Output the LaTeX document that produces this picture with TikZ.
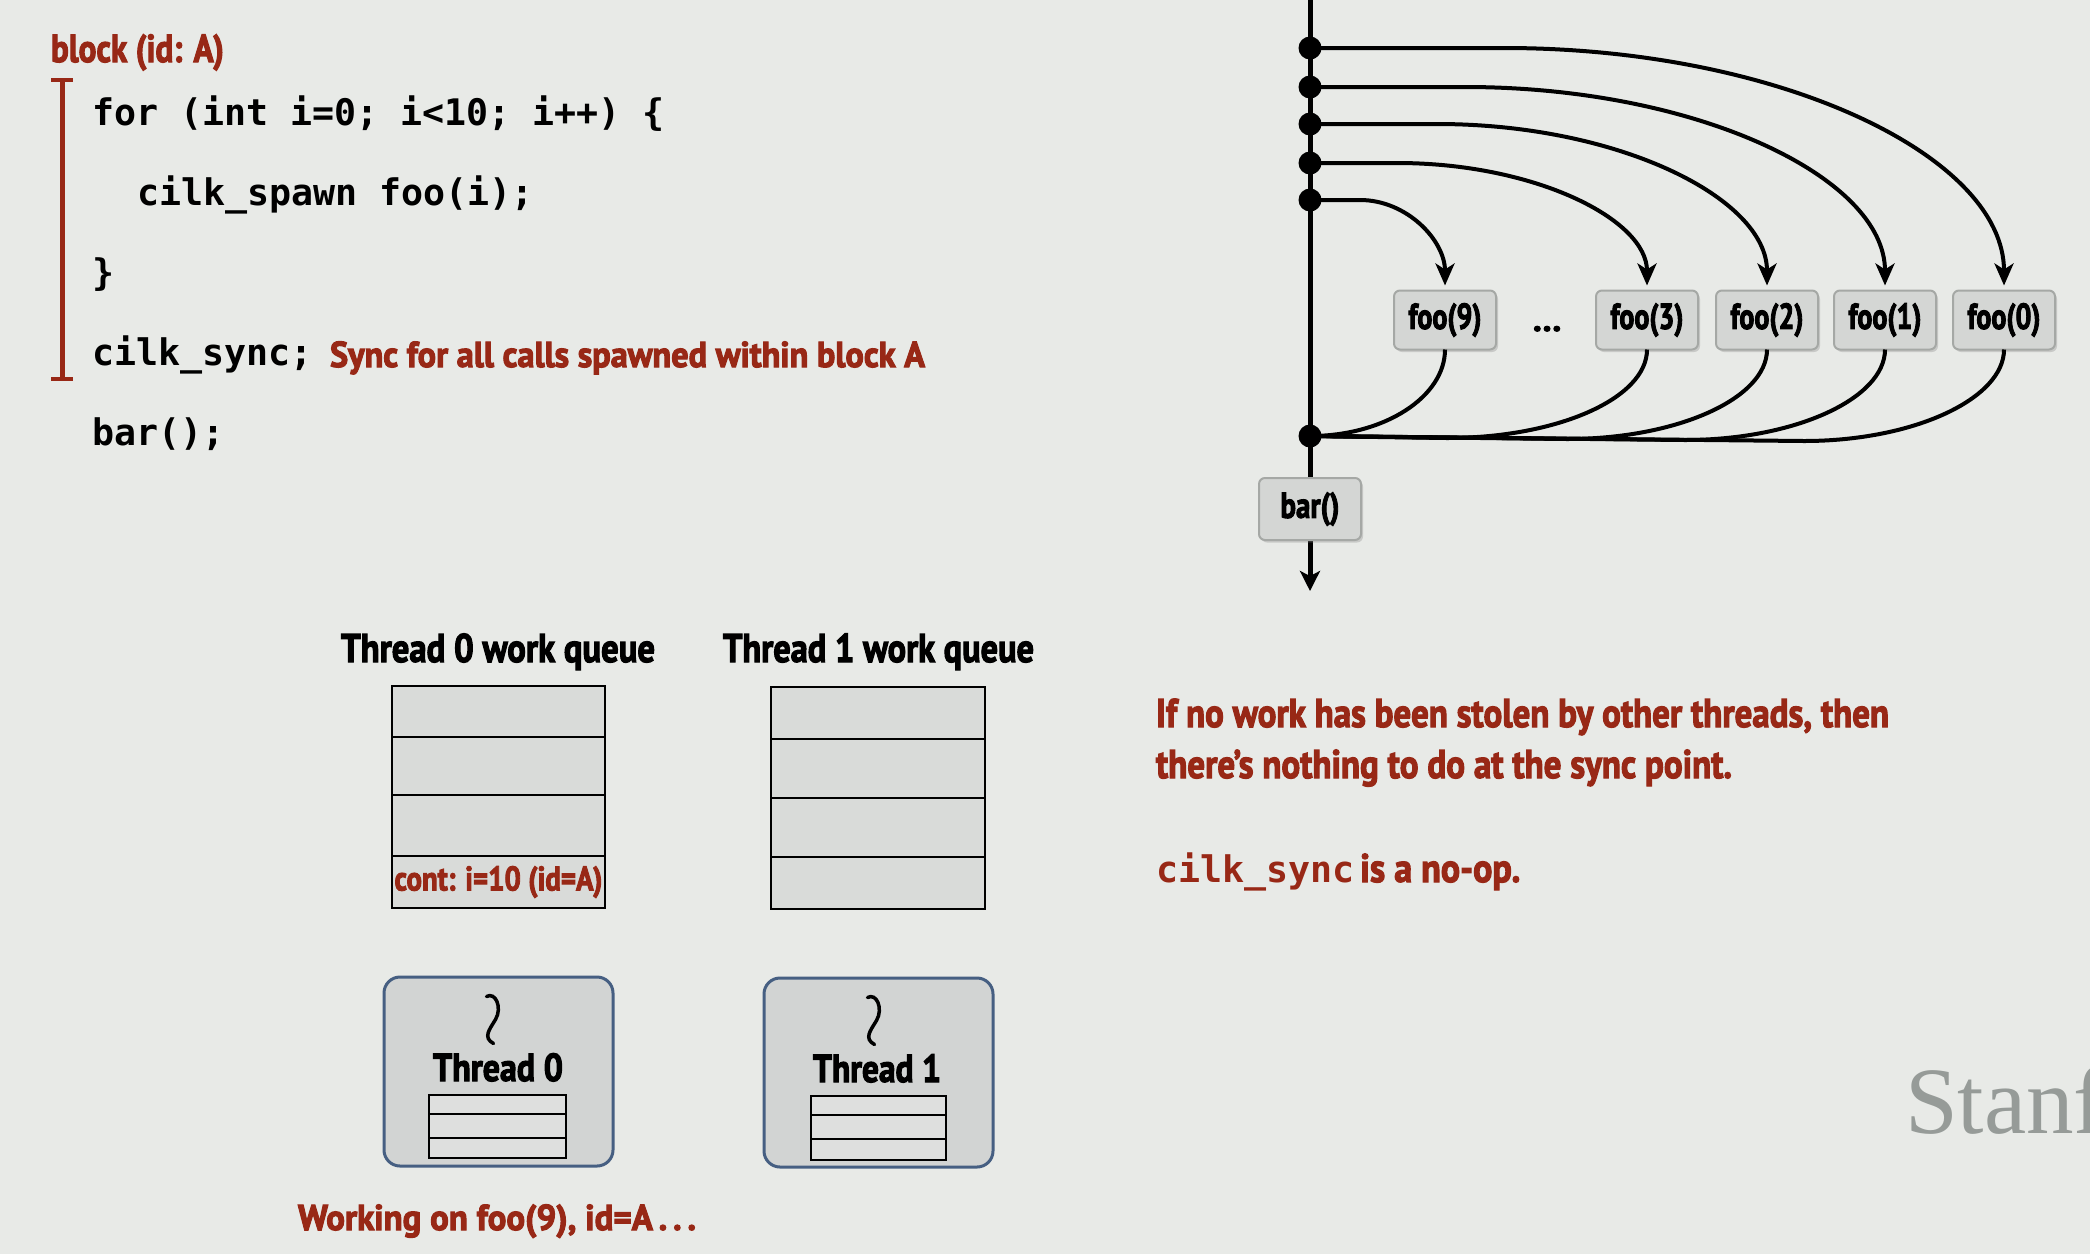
\documentclass[tikz,border=0pt]{standalone}
\usepackage{fontspec}
\usepackage{graphicx}
\setmainfont{PT Sans}[BoldFeatures={FakeBold=3}]
\newfontfamily\codef{DejaVu Sans Mono Bold}
\newfontfamily\stanf{Liberation Serif}
\usetikzlibrary{arrows.meta,shadows}
\definecolor{bgc}{RGB}{232,234,231}
\definecolor{slred}{RGB}{152,40,22}
\definecolor{boxfill}{RGB}{212,214,212}
\definecolor{boxline}{RGB}{165,168,165}
\definecolor{cellfill}{RGB}{217,219,217}
\definecolor{thrline}{RGB}{70,95,130}
\definecolor{thrfill}{RGB}{210,212,211}
\definecolor{stackfill}{RGB}{222,223,222}
\definecolor{stangray}{RGB}{150,155,152}
\newcommand\fitw[2]{\resizebox{#1pt}{\height}{#2}}
\newcommand\fs[1]{\fontsize{#1}{#1}\selectfont}
\pgfdeclarelayer{back}
\pgfdeclarelayer{bg}
\pgfsetlayers{back,bg,main}
\tikzset{
  every node/.style={inner sep=0pt, outer sep=0pt},
  codetxt/.style={anchor=base west, font=\codef\fs{36.6}\frenchspacing, text=black},
  cnd/.style={font=\bfseries\fs{#1}},
  fnbox/.style={draw=boxline, line width=2pt, fill=boxfill, rounded corners=6pt,
    minimum width=102pt, minimum height=59pt,
    drop shadow={shadow xshift=2pt, shadow yshift=-2.5pt, opacity=0.3},
    font=\bfseries\fs{36}},
  spawnln/.style={line width=4pt, -{Stealth[length=22pt, width=19pt, inset=6pt]}, shorten >=5pt},
  joinln/.style={line width=4pt},
  vline/.style={line width=5pt, -{Stealth[length=20pt, width=20pt, inset=5pt]}},
  qcell/.style={draw=black, line width=2.5pt, fill=cellfill, minimum width=213pt},
  thrbox/.style={draw=thrline, line width=3pt, fill=thrfill, rounded corners=16pt,
    minimum width=229pt, minimum height=189pt},
  scell/.style={draw=black, line width=2pt, fill=stackfill, minimum width=137pt},
  pics/squig/.style={code={\draw[line width=3.5pt, line cap=round]
    (-7,-23) .. controls (2,-28) and (9,-12) .. (2,0)
             .. controls (-4,10) and (-11,18) .. (0,24);}},
}
\begin{document}
\begin{tikzpicture}[x=1pt,y=-1pt]
\begin{pgfonlayer}{back}
\fill[bgc] (0,0) rectangle (2090,1254);
\end{pgfonlayer}
\useasboundingbox (0,0) rectangle (2090,1254);
\clip (0,0) rectangle (2090,1254);

% ---------------- code block ----------------
\node[anchor=base west, cnd=39, text=slred] (blk) at (51,62) {\fitw{173}{block (id: A)}};
\coordinate (brt) at (62,80);
\coordinate (brb) at (62,379);
\draw[slred, line width=5pt] (brt) -- (brb);
\draw[slred, line width=3.5pt] ([xshift=-11pt]brt) -- ([xshift=11pt]brt);
\draw[slred, line width=3.5pt] ([xshift=-11pt]brb) -- ([xshift=11pt]brb);
\node[codetxt] (c1) at (92,125) {for (int i=0; i<10; i++) \{};
\node[codetxt] (c2) at (137,205) {cilk\_spawn foo(i);};
\node[codetxt] (c3) at (92,285) {\}};
\node[codetxt] (c4) at (92,365) {cilk\_sync;};
\node[anchor=base west, cnd=36, text=slred] (note) at (330,367) {\fitw{595}{Sync for all calls spawned within block A}};
\node[codetxt] (c5) at (92,445) {bar();};

% ---------------- DAG ----------------
\coordinate (vtop) at (1310,0);
\coordinate (vbot) at (1310,591);
\coordinate (d1) at (1310,48);
\coordinate (d2) at (1310,87);
\coordinate (d3) at (1310,124);
\coordinate (d4) at (1310,163);
\coordinate (d5) at (1310,200);
\coordinate (j) at (1310,436);
\node[fnbox] (f9) at (1445,320) {\fitw{73}{foo(9)}};
\node[fnbox] (f3) at (1647,320) {\fitw{73}{foo(3)}};
\node[fnbox] (f2) at (1767,320) {\fitw{73}{foo(2)}};
\node[fnbox] (f1) at (1885,320) {\fitw{73}{foo(1)}};
\node[fnbox] (f0) at (2004,320) {\fitw{73}{foo(0)}};
\node[anchor=base, cnd=34] (ell) at (1547,331) {\fitw{29}{…}};
\node[fnbox, minimum height=62pt] (bar) at (1310,509) {\fitw{59}{bar()}};
\begin{pgfonlayer}{bg}
\draw[vline] (vtop) -- (vbot);
\end{pgfonlayer}
\draw[spawnln] (d1) -- ++(194,0) .. controls +(276,0) and +(0,-134) .. (f0.north);
\draw[spawnln] (d2) -- ++(155,0) .. controls +(232,0) and +(0,-113) .. (f1.north);
\draw[spawnln] (d3) -- ++(127,0) .. controls +(182,0) and +(0,-92) .. (f2.north);
\draw[spawnln] (d4) -- ++(87,0) .. controls +(138,0) and +(0,-71) .. (f3.north);
\draw[spawnln] (d5) -- ++(50,0) .. controls +(47,0) and +(0,-50) .. (f9.north);
\coordinate (k3) at (1447,438);
\coordinate (k2) at (1567,439);
\coordinate (k1) at (1685,440);
\coordinate (k0) at (1804,441);
\draw[joinln] (f9.south) .. controls +(0,47) and +(75,0) .. (j);
\draw[joinln] (f3.south) .. controls +(0,49) and +(110,0) .. (k3) -- (j);
\draw[joinln] (f2.south) .. controls +(0,49) and +(110,0) .. (k2) -- (j);
\draw[joinln] (f1.south) .. controls +(0,49) and +(110,0) .. (k1) -- (j);
\draw[joinln] (f0.south) .. controls +(0,49) and +(110,0) .. (k0) -- (j);
\foreach \d in {d1,d2,d3,d4,d5,j} \fill (\d) circle[radius=11.5];

% ---------------- work queues ----------------
\node[anchor=base, cnd=40] (q0t) at (498,662) {\fitw{314}{Thread 0 work queue}};
\node[anchor=base, cnd=40] (q1t) at (878.5,662) {\fitw{311}{Thread 1 work queue}};
\node[qcell, minimum height=51pt] (q0a) at (498.5,711.5) {};
\node[qcell, minimum height=58pt] (q0b) at (498.5,766) {};
\node[qcell, minimum height=61pt] (q0c) at (498.5,825.5) {};
\node[qcell, minimum height=52pt, text=slred, cnd=34] (q0d) at (498.5,882) {\fitw{208}{cont: i=10 (id=A)}};
\node[qcell, minimum width=214pt, minimum height=52pt] (q1a) at (878,713) {};
\node[qcell, minimum width=214pt, minimum height=59pt] (q1b) at (878,768.5) {};
\node[qcell, minimum width=214pt, minimum height=59pt] (q1c) at (878,827.5) {};
\node[qcell, minimum width=214pt, minimum height=52pt] (q1d) at (878,883) {};

% ---------------- threads ----------------
\node[thrbox] (t0) at (498.5,1071.5) {};
\node[thrbox] (t1) at (878.5,1072.5) {};
\path (t0.center) ++(-5,-52) pic {squig};
\path (t1.center) ++(-4,-52) pic {squig};
\node[anchor=base, cnd=39] (t0l) at (498,1081) {\fitw{130}{Thread 0}};
\node[anchor=base, cnd=39] (t1l) at (877,1082) {\fitw{128}{Thread 1}};
\node[scell, minimum height=19pt] (s0a) at (497.5,1104.5) {};
\node[scell, minimum height=24pt] (s0b) at (497.5,1126) {};
\node[scell, minimum height=20pt] (s0c) at (497.5,1148) {};
\node[scell, minimum width=135pt, minimum height=19pt] (s1a) at (878.5,1105.5) {};
\node[scell, minimum width=135pt, minimum height=24pt] (s1b) at (878.5,1127) {};
\node[scell, minimum width=135pt, minimum height=21pt] (s1c) at (878.5,1149.5) {};
\node[anchor=base west, cnd=36, text=slred] (work) at (298,1230) {\fitw{398}{Working on foo(9), id=A\,.\,.\,.}};

% ---------------- right text ----------------
\node[anchor=base west, cnd=40, text=slred] (r1) at (1156,727) {\fitw{733}{If no work has been stolen by other threads, then}};
\node[anchor=base west, cnd=40, text=slred] (r2) at (1156,778) {\fitw{576}{there’s nothing to do at the sync point.}};
\node[anchor=base west, text=slred] (r3) at (1156,882) {{\codef\fs{36.6}cilk\_sync}\hspace{6pt}{\bfseries\fs{40}\fitw{160}{is a no-op.}}};

\node[anchor=base west, font=\stanf\fs{95}, text=stangray] (stan) at (1905,1133) {Stanf};
\end{tikzpicture}
\end{document}
